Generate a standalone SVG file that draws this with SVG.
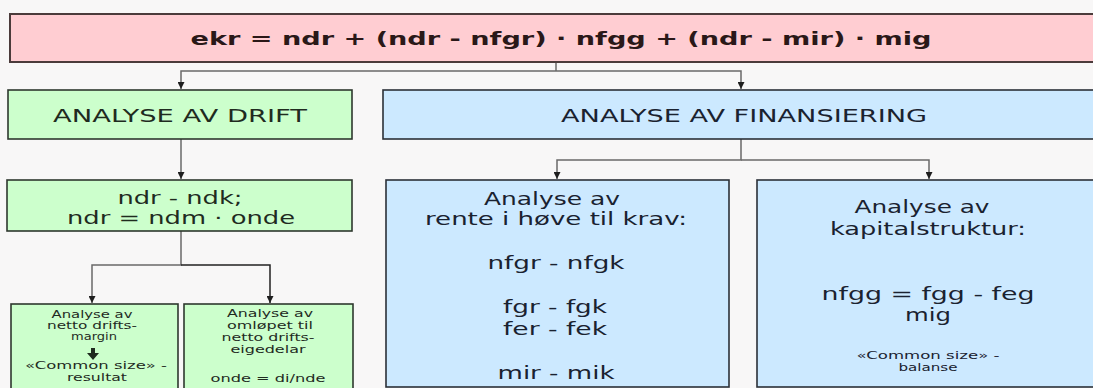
<svg xmlns="http://www.w3.org/2000/svg" width="1093" height="388" viewBox="0 0 1093 388">
<defs>
<marker id="ah" viewBox="0 0 8 8" refX="8" refY="4" markerWidth="7" markerHeight="7" orient="auto" markerUnits="userSpaceOnUse">
<path d="M0,0 L8,4 L0,8 z" fill="#1e1e1e"/>
</marker>
<style>
.bg{fill:#f8f7f7}
.pink{fill:#ffcdd2;stroke:#4b3b3b;stroke-width:2}
.green{fill:#ccffcc;stroke:#2e382e;stroke-width:1.6}
.blue{fill:#cce9ff;stroke:#2b3038;stroke-width:1.6}
.conn{fill:none;stroke:#6a6a6a;stroke-width:1.5}
.dark{stroke:#222}
text{font-family:"DejaVu Sans","Liberation Sans",sans-serif;text-anchor:middle;fill:#222}
.t1{font-size:18px;font-weight:bold;fill:#2a1818}
.t2{font-size:18px;fill:#1f2b1f}
.t3{font-size:17px;fill:#1a2230}
.t4{font-size:10px;fill:#1f2b1f}
.t5{font-size:10px;fill:#1a2230}
</style>
</defs>
<rect class="bg" x="0" y="0" width="1093" height="388"/>

<g id="connectors">
<path class="conn" d="M556,62 V71"/>
<path class="conn" d="M556,71 H181 V89" marker-end="url(#ah)"/>
<path class="conn" d="M556,71 H741 V89" marker-end="url(#ah)"/>
<path class="conn" d="M181,139 V179" marker-end="url(#ah)"/>
<path class="conn" d="M181,231 V265 H92 V303" marker-end="url(#ah)"/>
<path class="conn dark" d="M181,265 H270 V303" marker-end="url(#ah)"/>
<path class="conn" d="M741,139 V160 H557 V179" marker-end="url(#ah)"/>
<path class="conn" d="M741,160 H929 V179" marker-end="url(#ah)"/>
</g>

<g id="ekr">
<rect class="pink" x="10" y="14" width="1095" height="48"/>
<text class="t1" x="561" y="45" textLength="741" lengthAdjust="spacingAndGlyphs">ekr = ndr + (ndr - nfgr) · nfgg + (ndr - mir) · mig</text>
</g>

<g id="drift">
<rect class="green" x="8" y="90" width="344" height="49"/>
<text class="t2" x="180" y="122" textLength="254" lengthAdjust="spacingAndGlyphs">ANALYSE AV DRIFT</text>
</g>

<g id="finansiering">
<rect class="blue" x="383" y="90" width="720" height="49"/>
<text class="t2" x="744" y="122" textLength="366" lengthAdjust="spacingAndGlyphs" style="fill:#1a2230">ANALYSE AV FINANSIERING</text>
</g>

<g id="ndr">
<rect class="green" x="7" y="180" width="345" height="51"/>
<text class="t2" x="180" y="204" textLength="125" lengthAdjust="spacingAndGlyphs">ndr - ndk;</text>
<text class="t2" x="181" y="224" textLength="228" lengthAdjust="spacingAndGlyphs">ndr = ndm · onde</text>
</g>

<g id="rente">
<rect class="blue" x="386" y="180" width="343" height="207"/>
<text class="t3" x="552" y="205" textLength="136" lengthAdjust="spacingAndGlyphs">Analyse av</text>
<text class="t3" x="556" y="225" textLength="262" lengthAdjust="spacingAndGlyphs">rente i høve til krav:</text>
<text class="t3" x="556" y="269" textLength="137" lengthAdjust="spacingAndGlyphs">nfgr - nfgk</text>
<text class="t3" x="555" y="313" textLength="104" lengthAdjust="spacingAndGlyphs">fgr - fgk</text>
<text class="t3" x="555" y="335" textLength="104" lengthAdjust="spacingAndGlyphs">fer - fek</text>
<text class="t3" x="556" y="379" textLength="117" lengthAdjust="spacingAndGlyphs">mir - mik</text>
</g>

<g id="kapital">
<rect class="blue" x="757" y="180" width="346" height="207"/>
<text class="t3" x="922" y="213" textLength="135" lengthAdjust="spacingAndGlyphs">Analyse av</text>
<text class="t3" x="928" y="235" textLength="196" lengthAdjust="spacingAndGlyphs">kapitalstruktur:</text>
<text class="t3" x="928" y="300" textLength="213" lengthAdjust="spacingAndGlyphs">nfgg = fgg - feg</text>
<text class="t3" x="928" y="321" textLength="46" lengthAdjust="spacingAndGlyphs">mig</text>
<text class="t5" x="928" y="359" textLength="143" lengthAdjust="spacingAndGlyphs">«Common size» -</text>
<text class="t5" x="928" y="371" textLength="59" lengthAdjust="spacingAndGlyphs">balanse</text>
</g>

<g id="margin">
<rect class="green" x="11" y="304" width="167" height="90"/>
<text class="t4" x="92" y="318" textLength="81" lengthAdjust="spacingAndGlyphs">Analyse av</text>
<text class="t4" x="92" y="329" textLength="90" lengthAdjust="spacingAndGlyphs">netto drifts-</text>
<text class="t4" x="94" y="340" textLength="46" lengthAdjust="spacingAndGlyphs">margin</text>
<polygon points="91,348 95,348 95,353 99,353 93,360 87,353 91,353" fill="#1f2b1f"/>
<text class="t4" x="96" y="369" textLength="142" lengthAdjust="spacingAndGlyphs">«Common size» -</text>
<text class="t4" x="97" y="381" textLength="60" lengthAdjust="spacingAndGlyphs">resultat</text>
</g>

<g id="omlop">
<rect class="green" x="184" y="304" width="169" height="90"/>
<text class="t4" x="270" y="317" textLength="86" lengthAdjust="spacingAndGlyphs">Analyse av</text>
<text class="t4" x="270" y="329" textLength="86" lengthAdjust="spacingAndGlyphs">omløpet til</text>
<text class="t4" x="268" y="341" textLength="93" lengthAdjust="spacingAndGlyphs">netto drifts-</text>
<text class="t4" x="268" y="353" textLength="75" lengthAdjust="spacingAndGlyphs">eigedelar</text>
<text class="t4" x="268" y="382" textLength="115" lengthAdjust="spacingAndGlyphs">onde = di/nde</text>
</g>
</svg>
